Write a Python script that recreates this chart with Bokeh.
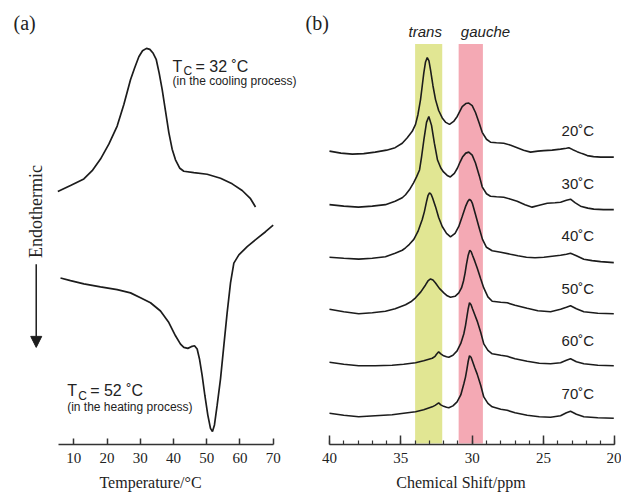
import math
from bokeh.plotting import figure
from bokeh.layouts import row
from bokeh.models import (Range1d, Label, Arrow, NormalHead,
                          SingleIntervalTicker, FixedTicker)
from bokeh.embed import file_html
from bokeh.resources import INLINE

# ---------------- Panel (a): DSC curves ----------------
cool_T = [5.19, 9.01, 13.02, 15.53, 18.03, 20.54, 23.05, 25.06, 27.06, 28.27, 29.57,
          30.68, 31.88, 32.88, 33.89, 34.79, 35.69, 36.6, 37.6, 38.6, 39.6, 40.6,
          41.91, 43.11, 46.12, 50.13, 54.15, 57.66, 60.67, 63.18, 64.68]
cool_hf = [25.43, 26.03, 26.7, 27.53, 28.7, 30.2, 32.03, 34.2, 36.7, 37.87, 39.03,
           39.63, 39.87, 39.77, 39.37, 38.77, 37.37, 35.7, 33.53, 31.37, 29.7, 28.63,
           27.77, 27.47, 27.33, 27.17, 26.77, 26.2, 25.53, 24.7, 23.87]

heat_T = [6.0, 9.01, 13.02, 18.03, 23.05, 27.06, 30.07, 33.08, 36.09, 38.6, 40.6,
          42.11, 43.11, 44.31, 45.32, 46.32, 47.12, 47.82, 48.62, 49.43, 50.33, 51.13,
          51.73, 52.33, 53.14, 54.15, 55.15, 56.15, 57.16, 58.16, 59.67, 62.18, 65.19,
          67.7, 70.0]
heat_hf = [16.7, 16.43, 16.1, 15.8, 15.53, 15.2, 14.7, 14.2, 13.37, 12.2, 10.87,
           10.03, 9.7, 9.6, 9.77, 9.87, 9.53, 8.53, 6.87, 4.87, 2.87, 1.53,
           1.2, 1.87, 3.87, 6.53, 9.87, 13.2, 16.2, 18.2, 19.03, 19.87, 20.7,
           21.37, 22.03]

temp_ticks = [10, 20, 30, 40, 50, 60, 70]

# ---------------- Panel (b): 13C NMR spectra ----------------
temps = ["20˚C", "30˚C", "40˚C", "50˚C", "60˚C", "70˚C"]

ppm_20 = [40.0, 39.2, 38.4, 37.6, 36.8, 36.0, 35.4, 34.9, 34.55, 34.2, 33.97, 33.8,
          33.62, 33.5, 33.39, 33.27, 33.15, 33.03, 32.92, 32.75, 32.57, 32.35, 32.1,
          31.85, 31.59, 31.3, 31.05, 30.7, 30.45, 30.24, 30.0, 29.77, 29.5, 29.3, 29.0,
          28.72, 28.3, 27.79, 27.3, 26.85, 26.4, 25.91, 25.4, 24.98, 24.4, 23.81, 23.4,
          23.23, 22.95, 22.65, 22.3, 21.94, 21.5, 21.0, 20.08]
int_20 = [0.1, -0.1, -0.2, -0.15, 0.0, 0.2, 0.45, 0.9, 1.45, 2.1, 2.8, 3.8,
          5.3, 6.7, 8.0, 9.1, 9.55, 9.2, 8.3, 6.7, 5.3, 4.2, 3.45,
          3.0, 2.8, 3.1, 3.6, 4.6, 4.9, 4.95, 4.7, 4.0, 2.9, 2.0, 1.3,
          1.0, 0.95, 0.9, 0.7, 0.45, 0.2, 0.0, 0.1, 0.15, 0.2, 0.3, 0.4,
          0.45, 0.25, 0.05, -0.15, -0.35, -0.45, -0.5, -0.5]

ppm_30 = [40.0, 39.0, 37.97, 37.0, 36.08, 35.4, 34.9, 34.67, 34.4, 34.11, 33.9, 33.69,
          33.55, 33.39, 33.2, 33.04, 32.85, 32.65, 32.43, 32.2, 32.01, 31.75, 31.53,
          31.25, 31.03, 30.85, 30.68, 30.45, 30.24, 30.0, 29.77, 29.5, 29.3, 29.0,
          28.72, 28.3, 27.79, 27.3, 26.85, 26.3, 25.8, 25.3, 24.74, 24.2, 23.81, 23.4,
          23.11, 22.8, 22.41, 21.9, 21.48, 20.8, 20.08]
int_30 = [0.0, -0.15, -0.25, -0.15, 0.0, 0.35, 0.7, 1.0, 1.5, 2.2, 2.8, 3.5,
          4.8, 6.5, 8.3, 8.9, 8.0, 6.2, 4.5, 3.7, 3.3, 2.95, 2.8,
          3.15, 3.7, 4.3, 4.8, 5.2, 5.3, 5.0, 4.2, 2.9, 1.8, 1.1,
          0.85, 0.8, 0.75, 0.55, 0.35, 0.0, -0.25, -0.05, 0.15, 0.2, 0.25, 0.45,
          0.55, 0.2, -0.15, -0.35, -0.45, -0.5, -0.5]

ppm_40 = [40.0, 39.0, 37.95, 37.0, 36.08, 35.4, 34.9, 34.67, 34.4, 34.09, 33.8, 33.5,
          33.35, 33.2, 33.1, 32.99, 32.88, 32.78, 32.57, 32.35, 32.1, 31.8, 31.52,
          31.2, 30.94, 30.7, 30.47, 30.3, 30.19, 30.08, 29.98, 29.77, 29.5, 29.28,
          29.0, 28.6, 28.0, 27.32, 26.8, 26.2, 25.6, 24.98, 24.4, 23.81, 23.4, 23.11,
          22.7, 22.18, 21.6, 21.0, 20.08]
int_40 = [0.0, -0.1, -0.2, -0.1, 0.05, 0.4, 0.7, 0.95, 1.3, 1.8, 2.6, 3.8,
          4.6, 5.6, 6.2, 6.5, 6.35, 6.0, 5.1, 4.0, 3.1, 2.4, 2.05,
          2.4, 3.1, 4.1, 5.1, 5.65, 5.85, 5.7, 5.4, 4.3, 2.9, 1.8,
          1.0, 0.65, 0.5, 0.3, 0.15, 0.0, -0.05, 0.0, 0.1, 0.2, 0.3, 0.4,
          0.15, -0.2, -0.35, -0.45, -0.55]

ppm_50 = [40.0, 39.0, 37.95, 37.0, 36.08, 35.4, 34.67, 34.3, 33.97, 33.6, 33.27, 33.1,
          32.92, 32.75, 32.57, 32.3, 31.99, 31.75, 31.52, 31.2, 30.94, 30.75, 30.61,
          30.5, 30.4, 30.28, 30.17, 30.07, 29.98, 29.82, 29.65, 29.4, 29.19, 28.9,
          28.6, 28.0, 27.55, 27.0, 26.15, 25.4, 24.51, 23.81, 23.4, 23.11, 22.7,
          22.18, 21.2, 20.08]
int_50 = [0.05, -0.2, -0.4, -0.3, -0.15, 0.1, 0.5, 0.8, 1.2, 1.8, 2.5, 2.9,
          3.1, 3.0, 2.7, 2.15, 1.7, 1.4, 1.25, 1.35, 1.7, 2.2, 2.9,
          3.7, 4.6, 5.5, 6.0, 5.85, 5.5, 4.9, 4.2, 3.1, 2.2, 1.3,
          0.85, 0.75, 0.7, 0.45, 0.15, -0.1, -0.2, 0.05, 0.25, 0.4, 0.1,
          -0.2, -0.35, -0.4]

ppm_60 = [40.0, 39.0, 37.95, 36.8, 35.61, 34.8, 33.97, 33.4, 32.8, 32.6, 32.5, 32.35,
          32.2, 32.0, 31.8, 31.64, 31.35, 31.06, 30.8, 30.59, 30.47, 30.37, 30.28,
          30.19, 30.08, 29.98, 29.82, 29.65, 29.4, 29.19, 28.9, 28.6, 28.0, 27.55,
          27.0, 26.15, 25.3, 24.51, 23.81, 23.4, 23.11, 22.7, 22.18, 21.2, 20.08]
int_60 = [0.0, -0.2, -0.35, -0.35, -0.3, -0.2, -0.05, 0.15, 0.4, 0.6, 0.8, 1.05,
          0.85, 0.65, 0.55, 0.5, 0.7, 1.15, 1.9, 2.85, 3.7, 4.6, 5.4,
          6.0, 5.8, 5.4, 4.8, 4.15, 3.0, 1.85, 1.2, 0.85, 0.7, 0.6,
          0.35, 0.1, -0.1, -0.15, -0.05, 0.2, 0.35, 0.05, -0.15, -0.3, -0.35]

ppm_70 = [40.0, 39.0, 37.95, 36.8, 35.61, 34.8, 33.97, 33.4, 32.8, 32.6, 32.5, 32.35,
          32.2, 32.0, 31.8, 31.64, 31.35, 31.06, 30.8, 30.59, 30.47, 30.37, 30.28,
          30.19, 30.08, 29.98, 29.82, 29.65, 29.4, 29.19, 28.9, 28.6, 28.0, 27.55,
          27.0, 26.15, 25.3, 24.51, 23.81, 23.4, 23.11, 22.7, 22.18, 21.2, 20.08]
int_70 = [0.15, -0.05, -0.2, -0.1, 0.0, 0.15, 0.3, 0.5, 0.8, 0.95, 1.05, 1.2,
          1.0, 0.85, 0.75, 0.7, 0.9, 1.3, 2.0, 3.1, 3.8, 4.6, 5.4,
          5.95, 5.8, 5.4, 4.75, 4.1, 2.95, 1.8, 1.15, 0.8, 0.55, 0.45,
          0.2, -0.05, -0.2, -0.25, -0.1, 0.2, 0.35, 0.05, -0.2, -0.3, -0.35]

spectra_ppm = [ppm_20, ppm_30, ppm_40, ppm_50, ppm_60, ppm_70]
spectra_int = [int_20, int_30, int_40, int_50, int_60, int_70]

trans_band = (34.0, 32.1)
gauche_band = (30.95, 29.25)
shift_ticks_interval = 5

LINE = "#1c1c1c"
TXT = "#222222"
SERIF = "Liberation Serif"
SANS = "Liberation Sans"

FRAME_H = 448
BOTTOM = 45
Y_RANGE = (-0.1, 44.7)


def style_axis(p, bounds):
    ax = p.xaxis[0]
    ax.bounds = bounds
    ax.axis_line_color = "#333333"
    ax.axis_line_width = 1.5
    ax.major_tick_line_color = "#333333"
    ax.major_tick_line_width = 1.5
    ax.minor_tick_line_color = "#333333"
    ax.minor_tick_line_width = 1.2
    ax.major_tick_out = 0
    ax.minor_tick_out = 0
    ax.major_label_standoff = 8
    ax.major_label_text_font = SERIF
    ax.major_label_text_font_size = "15px"
    ax.major_label_text_color = TXT
    ax.axis_label_text_font = SERIF
    ax.axis_label_text_font_size = "16px"
    ax.axis_label_text_font_style = "normal"
    ax.axis_label_text_color = TXT
    ax.axis_label_standoff = 8


def bare(p):
    p.yaxis.visible = False
    p.xgrid.visible = False
    p.ygrid.visible = False
    p.outline_line_color = None


# ---------- figure A ----------
pa = figure(width=300, height=FRAME_H + BOTTOM, output_backend="svg",
            toolbar_location=None, x_range=Range1d(-12.06, 78.22),
            y_range=Range1d(*Y_RANGE), min_border_left=0, min_border_right=0,
            min_border_top=0, min_border_bottom=BOTTOM,
            x_axis_label="Temperature/°C")
bare(pa)
pa.xaxis.ticker = FixedTicker(ticks=temp_ticks, minor_ticks=[])
style_axis(pa, (5.5, 70))
pa.xaxis.major_tick_in = 6

pa.line(cool_T, cool_hf, line_color=LINE, line_width=1.7)
pa.line(heat_T, heat_hf, line_color=LINE, line_width=1.7)

pa.add_layout(Label(x=-8.15, y=42.4, text="(a)", text_font=SERIF,
                    text_font_size="20px", text_baseline="middle", text_color=TXT))
pa.add_layout(Label(x=-1.44, y=23.4, text="Endothermic", angle=math.pi / 2,
                    text_font=SERIF, text_font_size="18px", text_align="center",
                    text_baseline="middle", text_color=TXT))
pa.add_layout(Arrow(x_start=-1.31, y_start=18.1, x_end=-1.31, y_end=9.7,
                    line_color=LINE, line_width=1.5,
                    end=NormalHead(size=11, fill_color=LINE, line_color=LINE)))


def tc_label(p, x, y, value_text, note, note_y):
    p.add_layout(Label(x=x, y=y, text="T", text_font=SANS, text_font_size="16px",
                       text_baseline="alphabetic", text_color=TXT))
    p.add_layout(Label(x=x, y=y - 0.5, x_offset=11, text="C", text_font=SANS,
                       text_font_size="12px", text_baseline="alphabetic",
                       text_color=TXT))
    p.add_layout(Label(x=x, y=y, x_offset=23, text=value_text, text_font=SANS,
                       text_font_size="16px", text_baseline="alphabetic",
                       text_color=TXT))
    p.add_layout(Label(x=x, y=note_y, text=note, text_font=SANS,
                       text_font_size="12px", text_baseline="middle",
                       text_color=TXT))


tc_label(pa, 39.7, 38.05, "= 32 ˚C", "(in the cooling process)", 36.55)
tc_label(pa, 8.0, 5.3, "= 52 ˚C", "(in the heating process)", 3.7)

# ---------- figure B ----------
pb = figure(width=321, height=FRAME_H + BOTTOM, output_backend="svg",
            toolbar_location=None, x_range=Range1d(42.03, 19.54),
            y_range=Range1d(*Y_RANGE), min_border_left=0, min_border_right=0,
            min_border_top=0, min_border_bottom=BOTTOM,
            x_axis_label="Chemical Shift/ppm")
bare(pb)
pb.xaxis.ticker = SingleIntervalTicker(interval=shift_ticks_interval, num_minor_ticks=5)
style_axis(pb, (20, 40))
pb.xaxis.major_tick_in = 9
pb.xaxis.minor_tick_in = 4

band_top = 40.3
pb.quad(left=[trans_band[0]], right=[trans_band[1]], bottom=[0], top=[band_top],
        fill_color="#e1e693", line_color=None)
pb.quad(left=[gauche_band[0]], right=[gauche_band[1]], bottom=[0], top=[band_top],
        fill_color="#f4a9b4", line_color=None)

base0 = 2.9
step = 5.3
n = len(temps)
for k, (xs, ys, t) in enumerate(zip(spectra_ppm, spectra_int, temps)):
    off = base0 + step * (n - 1 - k)
    pb.line(xs, [v + off for v in ys], line_color=LINE, line_width=1.6)
    pb.add_layout(Label(x=22.6, y=off + 2.15, text=t, text_font=SANS,
                        text_font_size="15px", text_align="center",
                        text_baseline="middle", text_color=TXT))

pb.add_layout(Label(x=33.29, y=41.6, text="trans", text_font=SANS,
                    text_font_size="15px", text_font_style="italic",
                    text_align="center", text_baseline="middle", text_color=TXT))
pb.add_layout(Label(x=29.07, y=41.6, text="gauche", text_font=SANS,
                    text_font_size="15px", text_font_style="italic",
                    text_align="center", text_baseline="middle", text_color=TXT))
pb.add_layout(Label(x=41.68, y=42.4, text="(b)", text_font=SERIF,
                    text_font_size="20px", text_baseline="middle", text_color=TXT))

layout = row(pa, pb)
open("out.html", "w").write(file_html(layout, INLINE))
